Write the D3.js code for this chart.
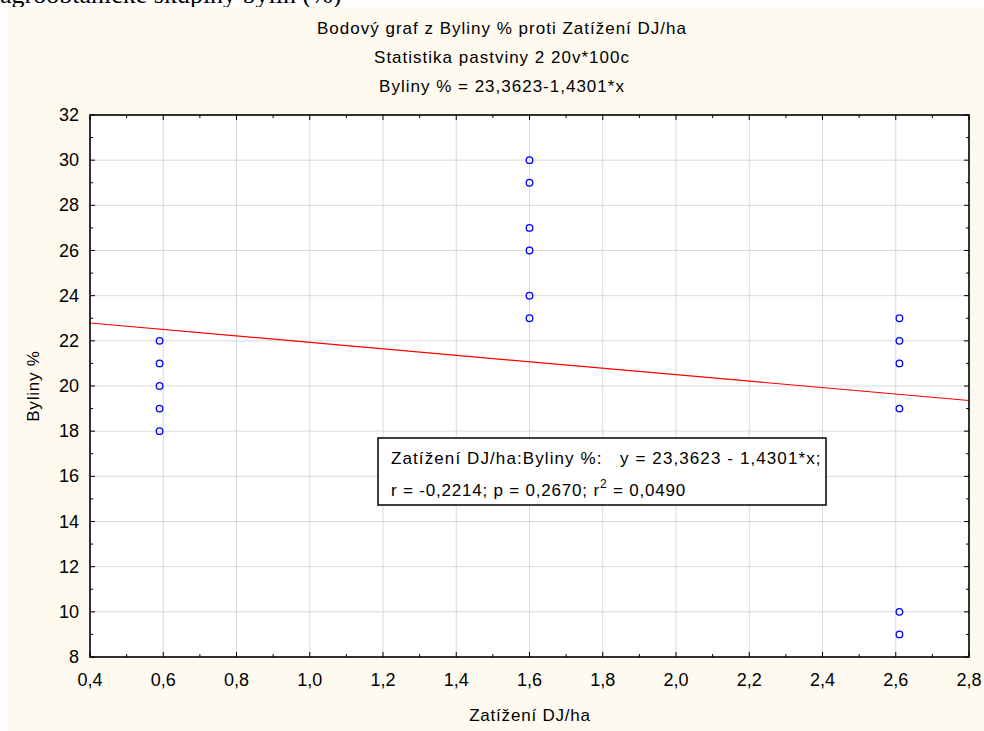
<!DOCTYPE html>
<html>
<head>
<meta charset="utf-8">
<script src="https://cdn.jsdelivr.net/npm/d3@7"></script>
<style>
  html, body { margin: 0; padding: 0; background: #ffffff; }
  svg { display: block; }
  text { font-family: "Liberation Sans", Arial, sans-serif; fill: #000; }
</style>
</head>
<body>
<svg id="chart" width="984" height="731"></svg>
<script>
// ---- data ----
const titleLines = ["Bodový graf z Byliny % proti Zatížení DJ/ha", "Statistika pastviny 2 20v*100c", "Byliny % = 23,3623-1,4301*x"];
const xLabel = "Zatížení DJ/ha";
const yLabel = "Byliny %";
const xTicks = [0.4, 0.6, 0.8, 1.0, 1.2, 1.4, 1.6, 1.8, 2.0, 2.2, 2.4, 2.6, 2.8];
const yTicks = [8, 10, 12, 14, 16, 18, 20, 22, 24, 26, 28, 30, 32];
const groupX = [0.59, 1.6, 2.61];
const groupY = [
  [22, 21, 20, 19, 18],
  [30, 29, 27, 26, 24, 23],
  [23, 22, 21, 19, 10, 9]
];
const intercept = 23.3623;
const slope = -1.4301;
const legendLine1 = "Zatížení DJ/ha:Byliny %:   y = 23,3623 - 1,4301*x;";
const legendLine2a = "r = -0,2214; p = 0,2670; r";
const legendLine2b = " = 0,0490";

const points = [];
groupX.forEach((gx, i) => groupY[i].forEach(v => points.push({x: gx, y: v})));

// ---- layout ----
const svg = d3.select("#chart");
const W = 984, H = 731;
const plot = {left: 90, top: 115, right: 969, bottom: 657};

// background: white page strip with cut-off text, then cream panel
svg.append("rect").attr("x", 0).attr("y", 0).attr("width", W).attr("height", H).attr("fill", "#ffffff");
svg.append("text").attr("x", 0).attr("y", 3)
  .style("font-family", "'Liberation Serif', 'Times New Roman', serif")
  .style("font-size", "26px")
  .text("agroobtanické skupiny bylin (%)");
svg.append("rect").attr("x", 8).attr("y", 7).attr("width", W - 8).attr("height", H - 7).attr("fill", "#fffaf0");

const x = d3.scaleLinear().domain([0.4, 2.8]).range([plot.left, plot.right]);
const y = d3.scaleLinear().domain([8, 32]).range([plot.bottom, plot.top]);

// plot area
svg.append("rect").attr("x", plot.left).attr("y", plot.top)
  .attr("width", plot.right - plot.left).attr("height", plot.bottom - plot.top)
  .attr("fill", "#ffffff");

// grid
const grid = svg.append("g");
grid.selectAll(".gx").data(xTicks.slice(1, -1)).join("line")
  .attr("x1", d => x(d)).attr("x2", d => x(d))
  .attr("y1", plot.top).attr("y2", plot.bottom)
  .attr("stroke", "#d9d9d9").attr("stroke-width", 1);
grid.selectAll(".gy").data(yTicks.slice(1, -1)).join("line")
  .attr("y1", d => y(d)).attr("y2", d => y(d))
  .attr("x1", plot.left).attr("x2", plot.right)
  .attr("stroke", "#d9d9d9").attr("stroke-width", 1);

// regression line (clipped)
svg.append("clipPath").attr("id", "clip").append("rect")
  .attr("x", plot.left).attr("y", plot.top)
  .attr("width", plot.right - plot.left).attr("height", plot.bottom - plot.top);
const xd = x.domain();
svg.append("line").attr("clip-path", "url(#clip)")
  .attr("x1", x(xd[0])).attr("y1", y(intercept + slope * xd[0]))
  .attr("x2", x(xd[1])).attr("y2", y(intercept + slope * xd[1]))
  .attr("stroke", "#ff0000").attr("stroke-width", 1.2);

// points
svg.append("g").selectAll("circle").data(points).join("circle")
  .attr("cx", d => x(d.x)).attr("cy", d => y(d.y)).attr("r", 3.3)
  .attr("fill", "none").attr("stroke", "#0000ff").attr("stroke-width", 1.3);

// axes with inward ticks on all sides
const minorX = d3.range(0.5, 2.8, 0.2);
const minorY = d3.range(9, 32, 2);
const axG = svg.append("g").attr("stroke", "#000");
function tickLines(data, isX, pos, len, dir) {
  axG.selectAll(null).data(data).join("line")
    .attr(isX ? "x1" : "y1", d => (isX ? x(d) : y(d)))
    .attr(isX ? "x2" : "y2", d => (isX ? x(d) : y(d)))
    .attr(isX ? "y1" : "x1", pos)
    .attr(isX ? "y2" : "x2", pos + dir * len)
    .attr("stroke-width", 1);
}
tickLines(xTicks, true, plot.bottom, 5, -1);
tickLines(minorX, true, plot.bottom, 3, -1);
tickLines(xTicks, true, plot.top, 5, 1);
tickLines(minorX, true, plot.top, 3, 1);
tickLines(yTicks, false, plot.left, 5, 1);
tickLines(minorY, false, plot.left, 3, 1);
tickLines(yTicks, false, plot.right, 5, -1);
tickLines(minorY, false, plot.right, 3, -1);

// frame
svg.append("rect").attr("x", plot.left).attr("y", plot.top)
  .attr("width", plot.right - plot.left).attr("height", plot.bottom - plot.top)
  .attr("fill", "none").attr("stroke", "#000").attr("stroke-width", 1.6);

// tick labels
const fmt = d => d.toFixed(1).replace(".", ",");
svg.append("g").selectAll("text").data(xTicks).join("text")
  .attr("x", d => x(d)).attr("y", plot.bottom + 29)
  .attr("text-anchor", "middle").style("font-size", "18px")
  .text(d => fmt(d));
svg.append("g").selectAll("text").data(yTicks).join("text")
  .attr("x", plot.left - 11).attr("y", d => y(d) + 6)
  .attr("text-anchor", "end").style("font-size", "18px")
  .text(d => d);

// axis titles
svg.append("text").attr("x", 530).attr("y", 721)
  .attr("text-anchor", "middle").style("font-size", "17px").style("letter-spacing", "0.8px").text(xLabel);
svg.append("text").attr("transform", `translate(39,${(plot.top + plot.bottom) / 2}) rotate(-90)`)
  .attr("text-anchor", "middle").style("font-size", "17px").style("letter-spacing", "0.8px").text(yLabel);

// titles
titleLines.forEach((t, i) => {
  svg.append("text").attr("x", 502).attr("y", 34 + i * 29)
    .attr("text-anchor", "middle").style("font-size", "17px").style("letter-spacing", "1px").text(t);
});

// legend box
const lg = svg.append("g");
lg.append("rect").attr("x", 378).attr("y", 438).attr("width", 448).attr("height", 67)
  .attr("fill", "#ffffff").attr("stroke", "#000").attr("stroke-width", 1.5);
lg.append("text").attr("x", 391).attr("y", 464).style("font-size", "17px").style("letter-spacing", "1.1px")
  .attr("xml:space", "preserve").style("white-space", "pre").text(legendLine1);
const t2 = lg.append("text").attr("x", 391).attr("y", 496).style("font-size", "17px").style("letter-spacing", "0.8px");
t2.append("tspan").text(legendLine2a);
t2.append("tspan").attr("dy", -8).style("font-size", "12px").text("2");
t2.append("tspan").attr("dy", 8).text(legendLine2b);
</script>
</body>
</html>
